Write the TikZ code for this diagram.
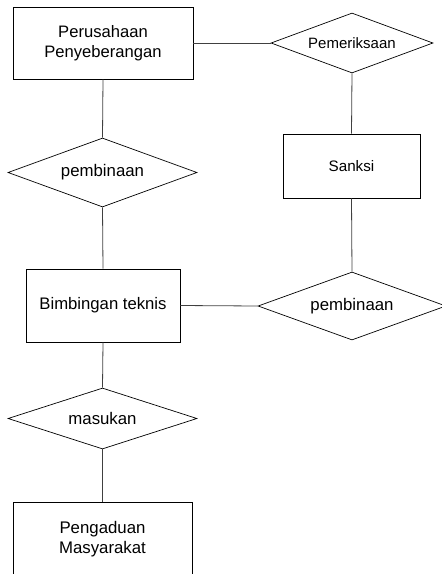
\documentclass[tikz,border=0pt]{standalone}
\usepackage{fontspec}
\setmainfont{Liberation Sans}
\usetikzlibrary{shapes.geometric}

\tikzset{
  entity/.style={draw=black, line width=0.8pt, rectangle, inner sep=0pt, align=center, fill=white},
  relation/.style={draw=black, line width=0.7pt, diamond, inner sep=0pt, align=center, fill=white},
  link/.style={draw=black!75, line width=0.8pt},
}
\newcommand{\fs}[1]{\fontsize{#1}{20}\selectfont}

\begin{document}
\begin{tikzpicture}[x=1pt, y=-1pt]
  \useasboundingbox (0,0) rectangle (442,574);
  \clip (0,0) rectangle (442,574);

  % entities
  \node[entity, minimum width=180pt, minimum height=72pt, font=\fs{16.6}]
    (perusahaan) at (103,43) {Perusahaan\\Penyeberangan};
  \node[entity, minimum width=137pt, minimum height=64pt, font=\fs{15.2}]
    (sanksi) at (351.5,166) {Sanksi};
  \node[entity, minimum width=154pt, minimum height=73pt, font=\fs{16.7}]
    (bimbingan) at (103,305.5) {Bimbingan teknis};
  \node[entity, minimum width=179pt, minimum height=74pt, font=\fs{16.8}]
    (pengaduan) at (102.5,539) {Pengaduan\\Masyarakat};

  % relationships
  \node[relation, aspect=2.7, minimum width=162pt, minimum height=60pt, font=\fs{15}]
    (pemeriksaan) at (352,43) {Pemeriksaan};
  \node[relation, aspect=2.74, minimum width=189pt, minimum height=69pt, font=\fs{16.8}]
    (pembinaanA) at (102.5,172.5) {pembinaan};
  \node[relation, aspect=2.76, minimum width=188pt, minimum height=68pt, font=\fs{16.8}]
    (pembinaanB) at (352,306) {pembinaan};
  \node[relation, aspect=3.1, minimum width=189pt, minimum height=61pt, font=\fs{16.8}]
    (masukan) at (102.5,418.5) {masukan};

  % connectors
  \draw[link] (perusahaan.east) -- (pemeriksaan.west);
  \draw[link] (perusahaan.south) -- (pembinaanA.north);
  \draw[link] (pemeriksaan.south) -- (sanksi.north);
  \draw[link] (sanksi.south) -- (pembinaanB.north);
  \draw[link] (pembinaanA.south) -- (bimbingan.north);
  \draw[link] (bimbingan.east) -- (pembinaanB.west);
  \draw[link] (bimbingan.south) -- (masukan.north);
  \draw[link] (masukan.south) -- (pengaduan.north);
\end{tikzpicture}
\end{document}
